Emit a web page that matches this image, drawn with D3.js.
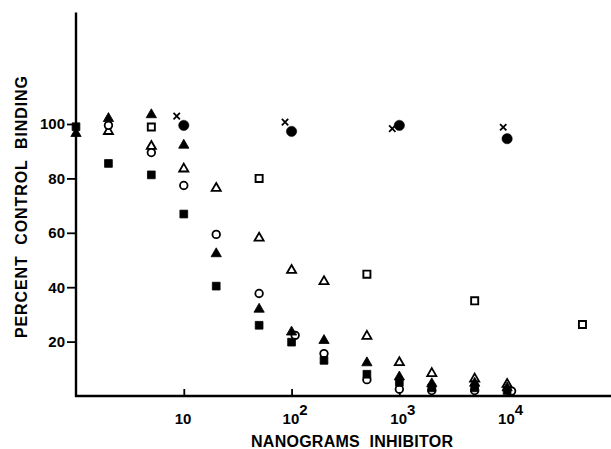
<!DOCTYPE html>
<html><head><meta charset="utf-8">
<script src="https://cdn.jsdelivr.net/npm/d3@7"></script>
<style>
html,body{margin:0;padding:0;background:#fff;}
svg{display:block;}
text{font-family:"Liberation Sans","DejaVu Sans",sans-serif;fill:#000;font-weight:bold;}
</style></head>
<body>
<svg id="chart" width="611" height="449"></svg>
<script>
// ---- data (dose in nanograms, value in percent control binding) ----
const filledSquare   = [[1,99],[2,85.5],[5,81.3],[10,66.9],[20,40.4],[50,26],[100,19.8],[200,13.1],[500,8],[1000,5],[2000,3],[5000,3],[10000,2]];
const filledTriangle = [[1,96.5],[2,102],[5,103.4],[10,92.2],[20,52.3],[50,31.9],[100,23.5],[200,20.4],[500,12.2],[1000,7],[2000,4.5],[5000,4.7],[10000,3]];
const openTriangle   = [[2,97.3],[5,91.8],[10,83.5],[20,76.4],[50,58.1],[100,46.2],[200,42.1],[500,22],[1000,12.3],[2000,8.3],[5000,6.3],[10000,4.3]];
const openCircle     = [[2,99.5],[5,89.5],[10,77.4],[20,59.4],[50,37.7],[108,22.3],[200,15.6],[500,6],[1000,2.5],[2000,2],[5000,2],[11000,1.8]];
const openSquare     = [[5,98.9],[50,80],[500,44.8],[5000,35],[50000,26.3]];
const filledCircle   = [[10,99.5],[100,97.3],[1000,99.5],[10000,94.6]];
const crossMark      = [[8.6,102.9],[87,100.7],[860,98.3],[9200,98.8]];

const yTicks = [20,40,60,80,100];
const xTickExps = [1,2,3,4];   // 10, 10^2, 10^3, 10^4
const xLabel = "NANOGRAMS  INHIBITOR";
const yLabel = "PERCENT  CONTROL  BINDING";

// ---- scales ----
const svg = d3.select("#chart");
const x = d3.scaleLog().domain([1, 92000]).range([76, 611]);
const y = d3.scaleLinear().domain([0, 100]).range([396, 124]);
const yTop = 141; // axis extends above 100

// axes lines
svg.append("line").attr("x1", x(1)).attr("x2", x(1)).attr("y1", y(yTop)).attr("y2", y(0)+1)
  .attr("stroke","#000").attr("stroke-width",2.4);
svg.append("line").attr("x1", x(1)-1).attr("x2", 611).attr("y1", y(0)).attr("y2", y(0))
  .attr("stroke","#000").attr("stroke-width",2.4);

// y axis via d3.axisLeft
const yAxis = d3.axisLeft(y).tickValues(yTicks).tickSize(9).tickPadding(2).tickFormat(d3.format("d"));
const gy = svg.append("g").attr("transform", `translate(${x(1)},0)`).call(yAxis);
gy.select(".domain").remove();
gy.selectAll(".tick line").attr("stroke","#000").attr("stroke-width",1.8);
gy.selectAll(".tick text").attr("font-size",15).attr("font-weight","bold").attr("fill","#000")
  .style("font-family",'"Liberation Sans",sans-serif');

// x axis ticks (inward) via d3.axisTop
const xTickVals = xTickExps.map(e => Math.pow(10, e));
const xAxis = d3.axisTop(x).tickValues(xTickVals).tickSize(7).tickFormat("");
const gx = svg.append("g").attr("transform", `translate(0,${y(0)})`).call(xAxis);
gx.select(".domain").remove();
gx.selectAll(".tick line").attr("stroke","#000").attr("stroke-width",1.8);

// x tick labels with superscripts
xTickExps.forEach(e => {
  const t = svg.append("text").attr("x", x(Math.pow(10,e)) - 9).attr("y", 424)
    .attr("font-size",15).attr("text-anchor","start");
  t.append("tspan").text("10");
  if (e > 1) t.append("tspan").attr("dy", -9).attr("font-size",15).text(String(e));
});

// axis titles
svg.append("text").attr("x", 251).attr("y", 447).attr("text-anchor","start")
  .attr("font-size",16).attr("textLength",202).attr("lengthAdjust","spacing")
  .style("white-space","pre").text(xLabel);
svg.append("text").attr("transform","translate(27,338) rotate(-90)").attr("text-anchor","start")
  .attr("font-size",16).attr("textLength",262).attr("lengthAdjust","spacing")
  .style("white-space","pre").text(yLabel);

// ---- marks ----
function plot(data, type, size, filled, sw) {
  svg.append("g").selectAll("path").data(data).join("path")
    .attr("transform", d => `translate(${x(d[0])},${y(d[1])})`)
    .attr("d", d3.symbol().type(type).size(size))
    .attr("fill", filled ? "#000" : "#fff")
    .attr("stroke", "#000").attr("stroke-width", sw);
}
plot(openSquare, d3.symbolSquare, 50, false, 1.9);
plot(openTriangle, d3.symbolTriangle, 36, false, 1.8);
plot(openCircle, d3.symbolCircle, 45, false, 1.8);
plot(filledTriangle, d3.symbolTriangle, 46, true, 0.8);
plot(filledSquare, d3.symbolSquare, 60, true, 0.8);
plot(filledCircle, d3.symbolCircle, 84, true, 0.5);
plot(crossMark, d3.symbolTimes, 28, false, 1.8);
</script>
</body></html>
